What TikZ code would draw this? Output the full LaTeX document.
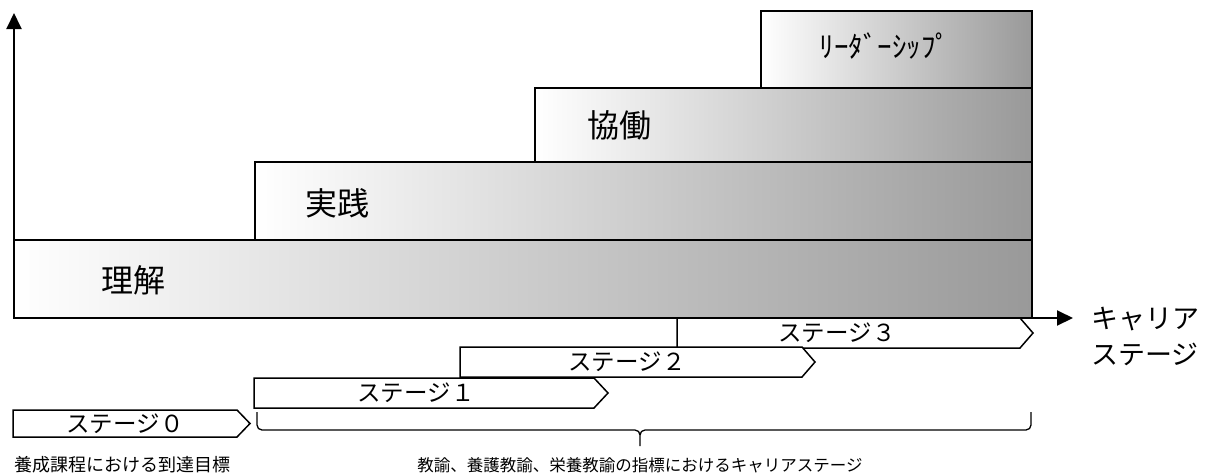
\documentclass[tikz,border=0pt]{standalone}
\usepackage{fontspec}
\setmainfont{Noto Sans CJK JP}
\usetikzlibrary{arrows.meta}
\tikzset{
  bar/.style={draw=black, line width=1.8pt, left color=white, right color=black!40},
  stagebox/.style={draw=black, line width=1.5pt, fill=white, line join=miter},
  barlabel/.style={font=\fontsize{32}{36}\selectfont, inner sep=0pt},
  stagelabel/.style={font=\fontsize{23.5}{26}\selectfont, inner sep=0pt},
  axislabel/.style={font=\fontsize{27}{30}\selectfont, inner sep=0pt},
  note/.style={font=\fontsize{18}{20}\selectfont, inner sep=0pt},
  axis/.style={line width=2pt, -{Triangle[length=16pt,width=15pt]}},
}
\begin{document}
\begin{tikzpicture}[x=1pt,y=-1pt]
\useasboundingbox (0,0) rectangle (1211,475);
% bars
\draw[bar] (14,240) rectangle (1032,318);
\draw[bar] (255,162) rectangle (1032,240);
\draw[bar] (535,88) rectangle (1032,162);
\draw[bar] (761,11) rectangle (1032,88);
\node[barlabel] (rikai) at (133,280) {理解};
\node[barlabel] (jissen) at (337,203) {実践};
\node[barlabel] (kyodo) at (619,125) {協働};
\node[font=\fontsize{29}{32}\selectfont, inner sep=0pt] (leader) at (885,46) {ﾘｰﾀﾞｰｼｯﾌﾟ};
% stage arrows
\draw[stagebox] (677,318) -- (1020,318) -- (1033,333) -- (1020,348) -- (677,348) -- cycle;
\draw[stagebox] (460,347) -- (802,347) -- (815,362) -- (802,377) -- (460,377) -- cycle;
\draw[stagebox] (254,378) -- (594,378) -- (608,393) -- (594,408) -- (254,408) -- cycle;
\draw[stagebox] (13,410) -- (237,410) -- (250,423.5) -- (237,437) -- (13,437) -- cycle;
\node[stagelabel] (s3) at (837,333) {ステージ３};
\node[stagelabel] (s2) at (627,362) {ステージ２};
\node[stagelabel] (s1) at (416,393) {ステージ１};
\node[stagelabel] (s0) at (125,424) {ステージ０};
% axes
\coordinate (origin) at (14,318);
\coordinate (ytip) at (14,13);
\coordinate (xtip) at (1073,318);
\draw[axis] (origin) -- (ytip);
\draw[axis] (origin) -- (xtip);
\node[axislabel] (career1) at (1145,319) {キャリア};
\node[axislabel] (career2) at (1145,354) {ステージ};
% brace
\coordinate (bl) at (257,412);
\coordinate (bm) at (640,446);
\coordinate (br) at (1031,412);
\draw[line width=1.3pt] (bl) -- (257,425) to[out=-90,in=180] (262,430) -- (635,430) to[out=0,in=90] (640,435) -- (bm);
\draw[line width=1.3pt] (640,435) to[out=90,in=180] (645,430) -- (1026,430) to[out=0,in=-90] (1031,425) -- (br);
\node[note] (yosei) at (122,465) {養成課程における到達目標};
\node[font=\fontsize{16.5}{19}\selectfont, inner sep=0pt] (kyoyu) at (640,465) {教諭、養護教諭、栄養教諭の指標におけるキャリアステージ};
\end{tikzpicture}
\end{document}
